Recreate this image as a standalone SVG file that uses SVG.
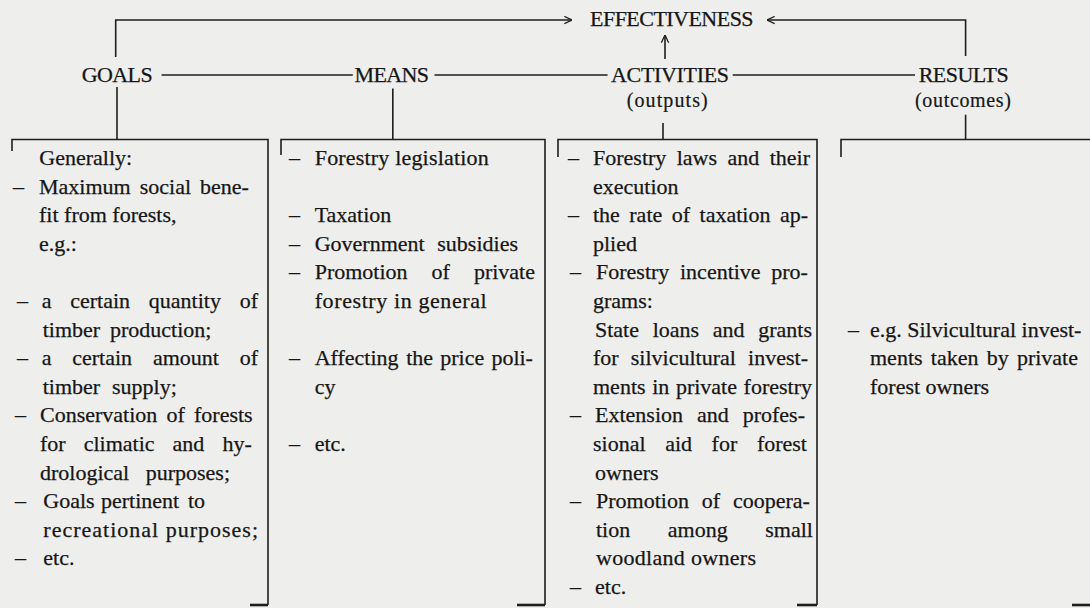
<svg xmlns="http://www.w3.org/2000/svg" width="1090" height="608" viewBox="0 0 1090 608">
<style>
.ln{stroke:#1e1e1e;stroke-width:1.6;fill:none}
.bt{stroke:#1e1e1e;stroke-width:2.6;fill:none}
.t{font-family:"Liberation Serif","Times New Roman",serif;font-size:22px;fill:#161616;stroke:#161616;stroke-width:0.25}
.h{font-family:"Liberation Serif","Times New Roman",serif;font-size:22px;fill:#161616;stroke:#161616;stroke-width:0.25}
.p{font-family:"Liberation Serif","Times New Roman",serif;font-size:20px;fill:#161616;stroke:#161616;stroke-width:0.2}
</style>
<defs>
<marker id="ah" viewBox="0 0 10 10" refX="9.5" refY="5" markerWidth="9" markerHeight="9" markerUnits="userSpaceOnUse" orient="auto">
<path d="M1,1 L9.5,5 L1,9" fill="none" stroke="#1e1e1e" stroke-width="1.4"/>
</marker>
</defs>
<rect x="0" y="0" width="1090" height="608" fill="#eeeeec"/>

<g id="connectors">
<path class="ln" d="M115.7,57 V20 H572" marker-end="url(#ah)"/>
<path class="ln" d="M965.6,56 V20 H767" marker-end="url(#ah)"/>
<path class="ln" d="M665,59 V35" marker-end="url(#ah)"/>
<path class="ln" d="M161.6,75 H352.8"/>
<path class="ln" d="M434.5,75 H607.6"/>
<path class="ln" d="M732.7,75 H915"/>
<path class="ln" d="M117,87 V139.5"/>
<path class="ln" d="M392.8,88.6 V139.5"/>
<path class="ln" d="M663,123 V139.5"/>
<path class="ln" d="M965.6,114.7 V139.5"/>
</g>

<g id="effectiveness">
<text class="h" x="590" y="26" textLength="163.6" lengthAdjust="spacing">EFFECTIVENESS</text>
</g>

<g id="goals">
<text class="h" x="81.7" y="82" textLength="71" lengthAdjust="spacing">GOALS</text>
<path class="ln" d="M12,151 V139.5 H268 V605"/>
<path class="bt" d="M250,605 H268"/>
<text class="t" x="39.3" y="165">Generally:</text>
<text class="t" x="13" y="193.6">–</text>
<text class="t" y="193.6"><tspan x="39">Maximum</tspan><tspan x="139.7">social</tspan><tspan x="200.1">bene-</tspan></text>
<text class="t" x="39" y="222.2">fit from forests,</text>
<text class="t" x="39" y="250.8">e.g.:</text>
<text class="t" x="17" y="308">–</text>
<text class="t" y="308"><tspan x="41.7">a</tspan><tspan x="70.2">certain</tspan><tspan x="148.8">quantity</tspan><tspan x="239.7">of</tspan></text>
<text class="t" y="336.6"><tspan x="42.7">timber</tspan><tspan x="110">production;</tspan></text>
<text class="t" x="17" y="365.2">–</text>
<text class="t" y="365.2"><tspan x="41.7">a</tspan><tspan x="72.2">certain</tspan><tspan x="152.9">amount</tspan><tspan x="239.7">of</tspan></text>
<text class="t" y="393.8"><tspan x="42.7">timber</tspan><tspan x="112">supply;</tspan></text>
<text class="t" x="15" y="422.4">–</text>
<text class="t" y="422.4"><tspan x="40">Conservation</tspan><tspan x="166.5">of</tspan><tspan x="194">forests</tspan></text>
<text class="t" y="451"><tspan x="40">for</tspan><tspan x="83.7">climatic</tspan><tspan x="172.6">and</tspan><tspan x="222.4">hy-</tspan></text>
<text class="t" y="479.6"><tspan x="40">drological</tspan><tspan x="145.7">purposes;</tspan></text>
<text class="t" x="15" y="508.2">–</text>
<text class="t" y="508.2"><tspan x="43.3">Goals</tspan><tspan x="101">pertinent</tspan><tspan x="188">to</tspan></text>
<text class="t" x="43.3" y="536.8" textLength="214.7" lengthAdjust="spacing">recreational purposes;</text>
<text class="t" x="15" y="565.4">–</text>
<text class="t" x="43.3" y="565.4">etc.</text>
</g>

<g id="means">
<text class="h" x="354.6" y="82" textLength="74.4" lengthAdjust="spacing">MEANS</text>
<path class="ln" d="M281,155 V139.5 H545 V605"/>
<path class="bt" d="M517,605 H545"/>
<text class="t" x="289" y="165">–</text>
<text class="t" x="314.7" y="165" textLength="174" lengthAdjust="spacing">Forestry legislation</text>
<text class="t" x="289" y="222.2">–</text>
<text class="t" x="314.7" y="222.2">Taxation</text>
<text class="t" x="289" y="250.8">–</text>
<text class="t" y="250.8"><tspan x="314.7">Government</tspan><tspan x="437.3">subsidies</tspan></text>
<text class="t" x="289" y="279.4">–</text>
<text class="t" y="279.4"><tspan x="314.7">Promotion</tspan><tspan x="431.6">of</tspan><tspan x="473.9">private</tspan></text>
<text class="t" x="314.7" y="308" textLength="172" lengthAdjust="spacing">forestry in general</text>
<text class="t" x="289" y="365.2">–</text>
<text class="t" y="365.2"><tspan x="314.7">Affecting</tspan><tspan x="406.2">the</tspan><tspan x="440.3">price</tspan><tspan x="491.4">poli-</tspan></text>
<text class="t" x="314.7" y="393.8">cy</text>
<text class="t" x="289" y="451">–</text>
<text class="t" x="314.7" y="451">etc.</text>
</g>

<g id="activities">
<text class="h" x="611" y="82" textLength="118" lengthAdjust="spacing">ACTIVITIES</text>
<text class="p" x="626.7" y="107" textLength="81" lengthAdjust="spacing">(outputs)</text>
<path class="ln" d="M558,157 V139.5 H817 V605"/>
<path class="bt" d="M797,605 H817"/>
<text class="t" x="568" y="165">–</text>
<text class="t" y="165"><tspan x="593">Forestry</tspan><tspan x="676.7">laws</tspan><tspan x="727.5">and</tspan><tspan x="769.7">their</tspan></text>
<text class="t" x="593" y="193.6">execution</text>
<text class="t" x="568" y="222.2">–</text>
<text class="t" y="222.2"><tspan x="593">the</tspan><tspan x="629.3">rate</tspan><tspan x="671.8">of</tspan><tspan x="699.6">taxation</tspan><tspan x="779.9">ap-</tspan></text>
<text class="t" x="593" y="250.8">plied</text>
<text class="t" x="570" y="279.4">–</text>
<text class="t" y="279.4"><tspan x="596">Forestry</tspan><tspan x="680">incentive</tspan><tspan x="771.3">pro-</tspan></text>
<text class="t" x="593" y="308">grams:</text>
<text class="t" y="336.6"><tspan x="595">State</tspan><tspan x="652.7">loans</tspan><tspan x="712.8">and</tspan><tspan x="758.2">grants</tspan></text>
<text class="t" y="365.2"><tspan x="593">for</tspan><tspan x="630.8">silvicultural</tspan><tspan x="748.1">invest-</tspan></text>
<text class="t" y="393.8"><tspan x="593">ments</tspan><tspan x="652.2">in</tspan><tspan x="675.9">private</tspan><tspan x="743.6">forestry</tspan></text>
<text class="t" x="570" y="422.4">–</text>
<text class="t" y="422.4"><tspan x="595">Extension</tspan><tspan x="697">and</tspan><tspan x="742.7">profes-</tspan></text>
<text class="t" y="451"><tspan x="593">sional</tspan><tspan x="665.2">aid</tspan><tspan x="711.6">for</tspan><tspan x="756.9">forest</tspan></text>
<text class="t" x="595" y="479.6">owners</text>
<text class="t" x="570" y="508.2">–</text>
<text class="t" y="508.2"><tspan x="596">Promotion</tspan><tspan x="701.8">of</tspan><tspan x="733">coopera-</tspan></text>
<text class="t" y="536.8"><tspan x="596">tion</tspan><tspan x="667.8">among</tspan><tspan x="765.3">small</tspan></text>
<text class="t" x="596" y="565.4" textLength="160" lengthAdjust="spacing">woodland owners</text>
<text class="t" x="570" y="594">–</text>
<text class="t" x="595" y="594">etc.</text>
</g>

<g id="results">
<text class="h" x="918.7" y="82" textLength="90" lengthAdjust="spacing">RESULTS</text>
<text class="p" x="915" y="107" textLength="96" lengthAdjust="spacing">(outcomes)</text>
<path class="ln" d="M841,157 V139.5 H1090"/>
<path class="bt" d="M1072,605 H1090"/>
<text class="t" x="848" y="336.6">–</text>
<text class="t" x="870" y="336.6">e.g. Silvicultural invest-</text>
<text class="t" y="365.2"><tspan x="870">ments</tspan><tspan x="930.8">taken</tspan><tspan x="986.7">by</tspan><tspan x="1016.9">private</tspan></text>
<text class="t" x="870" y="393.8">forest owners</text>
</g>
</svg>
